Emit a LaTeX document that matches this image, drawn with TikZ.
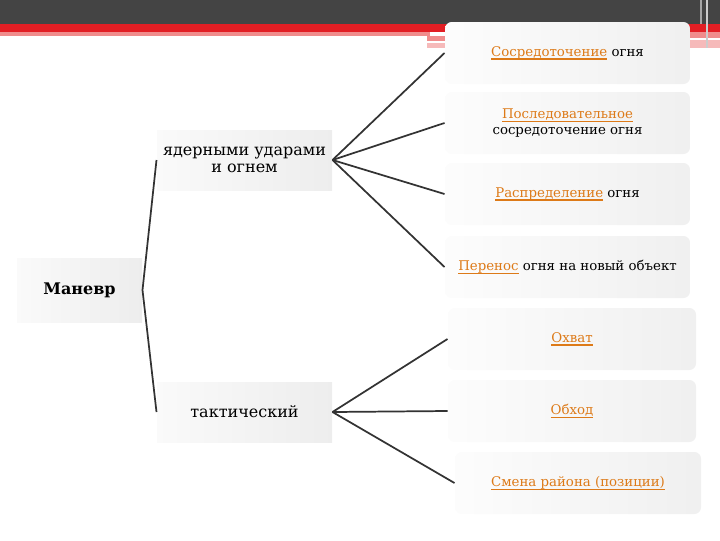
\documentclass[tikz,border=0pt]{standalone}
\usepackage{fontspec}
\setmainfont{DejaVu Serif}
\definecolor{linkc}{RGB}{221,122,24}
\definecolor{barc}{RGB}{68,68,68}
\definecolor{redc}{RGB}{226,30,36}
\definecolor{pinkc}{RGB}{240,140,140}
\definecolor{linec}{RGB}{51,51,51}
\newcommand{\lnk}[1]{\textcolor{linkc}{\setbox0\hbox{#1}\rlap{\rule[-2.6pt]{\wd0}{0.9pt}}\box0}}
\tikzset{every picture/.style={line width=0.75pt}}
\tikzset{
  leftbox/.style={inner sep=0pt, left color=black!2, right color=black!7, draw=none, font=\fontsize{12}{13}\selectfont, align=center},
  rightbox/.style={inner sep=0pt, rounded corners=5pt, left color=black!1, right color=black!6, draw=none, font=\fontsize{10}{11.5}\selectfont, align=center},
  fan/.style={draw=linec, line width=1.3pt}
}

\begin{document}
\begin{tikzpicture}[x=0.75pt,y=0.75pt,yscale=-1,xscale=1]
\useasboundingbox (0,0) rectangle (720,540);

%Top bar
\fill [barc] (0,0) rectangle (720,24) ;
\fill [redc] (0,24) rectangle (720,32) ;
\fill [pinkc] (0,32) rectangle (430,36) ;
\fill [pinkc] (427,36) rectangle (445,41) ;
\fill [pinkc!60] (427,43) rectangle (445,48) ;
\fill [pinkc] (690,32) rectangle (720,38) ;
\fill [pinkc!60] (690,40) rectangle (720,48) ;
\fill [black!35] (700,0) rectangle (702,24) ;
\fill [black!20] (706,0) rectangle (708,48) ;

% Left Nodes
\node [leftbox, minimum width=125*0.75pt, minimum height=64*0.75pt] (manevr) at (79.5,290) {\textbf{Маневр}};
\node [leftbox, minimum width=175*0.75pt, minimum height=60*0.75pt] (yadern) at (244.5,160) {ядерными ударами\\и огнем};
\node [leftbox, minimum width=175*0.75pt, minimum height=60*0.75pt] (taktik) at (244.5,412) {тактический};

% Right Nodes
\node [rightbox, minimum width=245*0.75pt, minimum height=62*0.75pt] (sosred) at (567.5,53) {\lnk{Сосредоточение} огня};
\node [rightbox, minimum width=245*0.75pt, minimum height=62*0.75pt] (posled) at (567.5,123) {\lnk{Последовательное}\\сосредоточение огня};
\node [rightbox, minimum width=245*0.75pt, minimum height=62*0.75pt] (raspred) at (567.5,194) {\lnk{Распределение} огня};
\node [rightbox, minimum width=245*0.75pt, minimum height=62*0.75pt] (perenos) at (567.5,267) {\lnk{Перенос} огня на новый объект};
\node [rightbox, minimum width=248*0.75pt, minimum height=62*0.75pt] (ohvat) at (572,339) {\lnk{Охват}};
\node [rightbox, minimum width=248*0.75pt, minimum height=62*0.75pt] (obhod) at (572,411) {\lnk{Обход}};
\node [rightbox, minimum width=246*0.75pt, minimum height=62*0.75pt] (smena) at (578,483) {\lnk{Смена района (позиции)}};

%Straight Lines
\draw [fan] (manevr.east) -- (yadern.west) ;
\draw [fan] (manevr.east) -- (taktik.west) ;
\foreach \t in {sosred,posled,raspred,perenos}
  \draw [fan] (yadern.east) -- (\t.west) ;
\foreach \t in {ohvat,obhod,smena}
  \draw [fan] (taktik.east) -- (\t.west) ;

\end{tikzpicture}
\end{document}
